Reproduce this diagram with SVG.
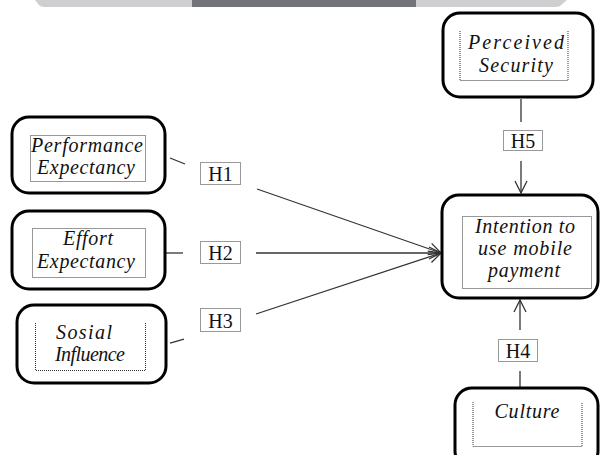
<svg xmlns="http://www.w3.org/2000/svg" width="600" height="455" viewBox="0 0 600 455">
<style>
.box{fill:#fff;stroke:#000;stroke-width:3}
.dot{fill:none;stroke:#333;stroke-width:1;stroke-dasharray:1 1}
.lbl{fill:#fff;stroke:#333;stroke-width:1;stroke-dasharray:1 1}
.t{font-family:"Liberation Serif",serif;font-style:italic;font-size:20px;fill:#111;text-anchor:middle}
.h{font-family:"Liberation Serif",serif;font-size:20px;fill:#111;text-anchor:middle}
.c{stroke:#333;stroke-width:1.3;fill:none}
</style>
<defs>
<marker id="ah" markerUnits="userSpaceOnUse" markerWidth="14" markerHeight="14" refX="13" refY="7" orient="auto" viewBox="0 0 14 14">
<path d="M1,1 L13,7 L1,13" fill="none" stroke="#333" stroke-width="1.3"/>
</marker>
</defs>
<g id="topbar">
<path d="M35,0 H567 L560,6 Q558,7 555,7 H44 Q41,7 39,5 Z" fill="#cfcfd1"/>
<rect x="192" y="0" width="224" height="7" fill="#737479"/>
</g>
<g id="connectors">
<line class="c" x1="170" y1="158" x2="185" y2="164"/>
<line class="c" x1="257" y1="189" x2="441" y2="253" marker-end="url(#ah)"/>
<line class="c" x1="166" y1="253" x2="183" y2="253"/>
<line class="c" x1="256" y1="253" x2="441" y2="253" marker-end="url(#ah)"/>
<line class="c" x1="170" y1="343" x2="184" y2="339"/>
<line class="c" x1="256" y1="314" x2="441" y2="253" marker-end="url(#ah)"/>
<line class="c" x1="521" y1="99" x2="521" y2="122"/>
<line class="c" x1="521" y1="161" x2="521" y2="193" marker-end="url(#ah)"/>
<line class="c" x1="520" y1="388" x2="520" y2="371"/>
<line class="c" x1="520" y1="330" x2="520" y2="300" marker-end="url(#ah)"/>
</g>
<g id="perceived-security">
<rect class="box" x="443" y="13" width="150" height="84" rx="17"/>
<path class="dot" d="M460,31 V80.5 H568 V31"/>
<text class="t" x="516" y="49" font-size="21" textLength="96">Perceived</text>
<text class="t" x="516" y="72" font-size="21" textLength="74">Security</text>
</g>
<g id="performance-expectancy">
<rect class="box" x="12" y="117" width="153" height="76" rx="17"/>
<rect class="dot" x="30.5" y="135.5" width="115" height="46"/>
<text class="t" x="87" y="152" textLength="112">Performance</text>
<text class="t" x="86" y="174" textLength="98">Expectancy</text>
</g>
<g id="effort-expectancy">
<rect class="box" x="12" y="211" width="153" height="78" rx="17"/>
<rect class="dot" x="32.5" y="228.5" width="113" height="49"/>
<text class="t" x="88" y="245" textLength="50">Effort</text>
<text class="t" x="86" y="268" textLength="98">Expectancy</text>
</g>
<g id="sosial-influence">
<rect class="box" x="17" y="305" width="149" height="78" rx="17"/>
<path class="dot" d="M35.5,323 V370.5 H145.5 V323"/>
<text class="t" x="84" y="339" font-size="19" textLength="56">Sosial</text>
<text class="t" x="90" y="361" font-size="19" textLength="70">Influence</text>
</g>
<g id="intention">
<rect class="box" x="442" y="195" width="156" height="103" rx="17"/>
<rect class="dot" x="462.5" y="216.5" width="129" height="72"/>
<text class="t" x="525" y="233" textLength="100">Intention to</text>
<text class="t" x="525" y="255" textLength="94">use mobile</text>
<text class="t" x="524" y="277" textLength="72">payment</text>
</g>
<g id="culture">
<rect class="box" x="455" y="388" width="143" height="80" rx="17"/>
<path class="dot" d="M473,402 V446.5 H582 V402"/>
<text class="t" x="527" y="418" font-size="21" textLength="65">Culture</text>
</g>
<g id="labels">
<rect class="lbl" x="200.5" y="162.5" width="40" height="22"/>
<text class="h" x="220.5" y="181">H1</text>
<rect class="lbl" x="200.5" y="241.5" width="40" height="22"/>
<text class="h" x="220.5" y="260">H2</text>
<rect class="lbl" x="200.5" y="308.5" width="40" height="23"/>
<text class="h" x="220.5" y="328">H3</text>
<rect class="lbl" x="503.5" y="130.5" width="39" height="20"/>
<text class="h" x="523" y="148">H5</text>
<rect class="lbl" x="498.5" y="339.5" width="39" height="22"/>
<text class="h" x="518" y="358">H4</text>
</g>
</svg>
